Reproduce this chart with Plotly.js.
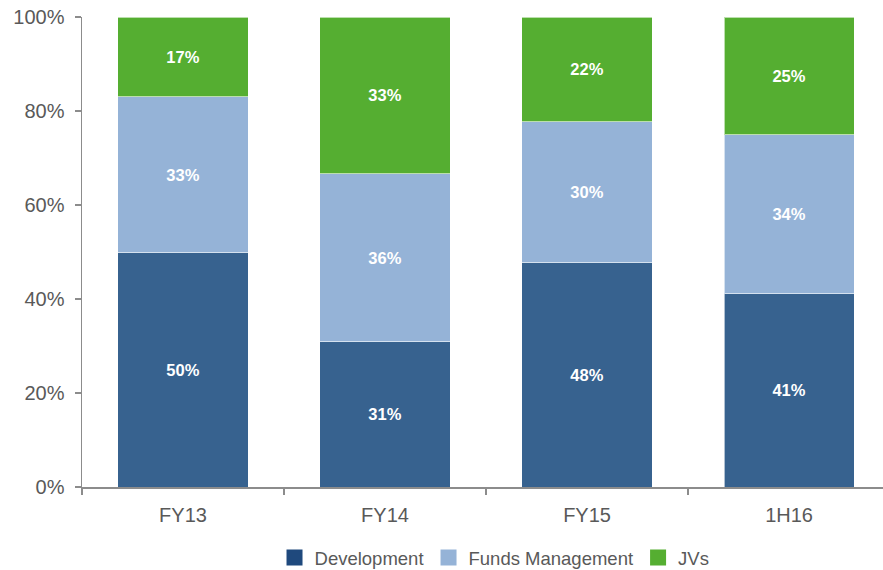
<!DOCTYPE html>
<html>
<head>
<meta charset="utf-8">
<script src="https://cdn.plot.ly/plotly-3.0.1.min.js"></script>
<style>html,body{margin:0;padding:0;background:#fff;}#chart{width:883px;height:570px;}</style>
</head>
<body>
<div id="chart"></div>
<script>
const categories = ['FY13', 'FY14', 'FY15', '1H16'];
const seriesNames = ['Development', 'Funds Management', 'JVs'];
const development = [49.8, 30.9, 47.7, 41.1];
const fundsManagement = [33.2, 35.7, 30.0, 33.8];
const jvs = [17.0, 33.4, 22.3, 25.1];
const yTickVals = [0, 20, 40, 60, 80, 100];
const yTickText = ['0%', '20%', '40%', '60%', '80%', '100%'];
const colors = ['#37628F', '#95B3D7', '#55AE31'];
const legendColors = ['#1F497D', '#95B3D7', '#55AE31'];

function mk(name, vals, color) {
  return {
    type: 'bar', name: name, x: categories, y: vals, showlegend: false,
    marker: {color: color, line: {color: 'rgba(255,255,255,0.6)', width: 1}},
    texttemplate: '%{y:.0f}%', textposition: 'inside', insidetextanchor: 'middle',
    textfont: {family: 'Liberation Sans, Arial, sans-serif', size: 16.5, color: '#ffffff', weight: 'bold'},
    hoverinfo: 'none'
  };
}
const data = [
  mk(seriesNames[0], development, colors[0]),
  mk(seriesNames[1], fundsManagement, colors[1]),
  mk(seriesNames[2], jvs, colors[2])
];
// legend entries with larger square swatches
seriesNames.forEach((n, i) => {
  data.push({
    type: 'scatter', mode: 'markers', name: n, x: [null], y: [null],
    marker: {symbol: 'square', size: 24, color: legendColors[i]},
    hoverinfo: 'none', showlegend: true
  });
});
const layout = {
  width: 883, height: 570,
  margin: {l: 82, r: 0, t: 17, b: 83, autoexpand: false},
  barmode: 'stack', bargap: 0.356,
  paper_bgcolor: '#ffffff', plot_bgcolor: '#ffffff',
  font: {family: 'Liberation Sans, Arial, sans-serif', color: '#595959'},
  xaxis: {
    range: [-0.5, 3.465], showgrid: false, zeroline: false,
    showline: true, linecolor: '#8c8c8c', linewidth: 1.5,
    ticks: 'outside', tickson: 'boundaries', ticklen: 6, tickcolor: '#8c8c8c', tickwidth: 1.5,
    tickfont: {size: 20, color: '#595959'}, ticklabelstandoff: 9
  },
  yaxis: {
    range: [0, 100], tickvals: yTickVals, ticktext: yTickText,
    showgrid: false, zeroline: false,
    showline: true, linecolor: '#8c8c8c', linewidth: 1.5,
    ticks: 'outside', ticklen: 6, tickcolor: '#8c8c8c', tickwidth: 1.5,
    tickfont: {size: 20, color: '#595959'}, ticklabelstandoff: 6
  },
  showlegend: true,
  legend: {
    orientation: 'h', x: 0.515, xanchor: 'center',
    yref: 'container', y: 0.021, yanchor: 'middle',
    font: {size: 18.5, color: '#595959'}, traceorder: 'normal', itemwidth: 30,
    itemsizing: 'trace', tracegroupgap: 0
  }
};
Plotly.newPlot('chart', data, layout, {displayModeBar: false, staticPlot: true});
</script>
</body>
</html>
